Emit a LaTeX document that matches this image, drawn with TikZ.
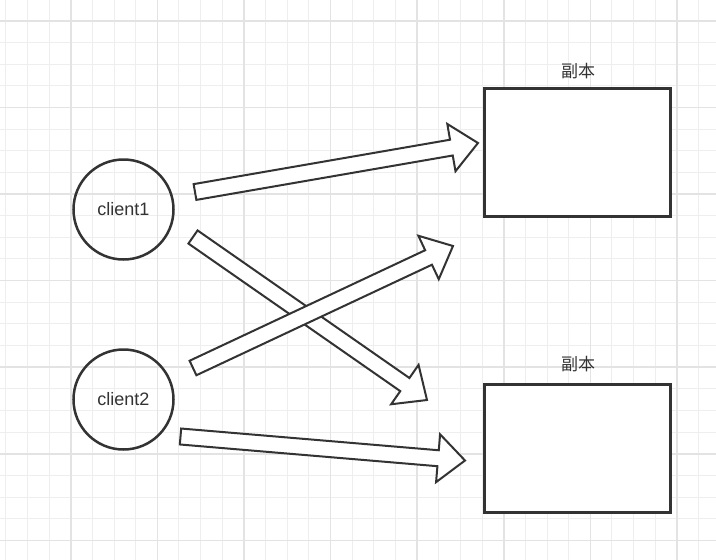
\documentclass[tikz,border=0pt]{standalone}
\usepackage{fontspec}
\setmainfont{Liberation Sans}
\newfontfamily\cjk{Noto Sans CJK SC}
\usetikzlibrary{calc}

\definecolor{inkgray}{HTML}{333333}
\definecolor{gridminor}{HTML}{EEEEEE}
\definecolor{gridmajor}{HTML}{E3E3E3}

% hollow fat arrow from #1 to #2
\newcommand{\fatarrow}[2]{%
  \coordinate (hb) at ($(#2)!27pt!(#1)$);
  \draw[arrowbody] ($(#1)!8pt!90:(#2)$) -- ($(hb)!8pt!90:(#2)$) -- ($(hb)!24pt!90:(#2)$) -- (#2)
    -- ($(hb)!24pt!-90:(#2)$) -- ($(hb)!8pt!-90:(#2)$) -- ($(#1)!8pt!-90:(#2)$) -- cycle;}

\begin{document}
\begin{tikzpicture}[x=1pt,y=-1pt,
  client/.style={draw=inkgray,line width=2.5pt,circle,minimum size=100pt,inner sep=0pt,text=inkgray,font=\fontsize{18}{20}\selectfont},
  replica/.style={draw=inkgray,line width=2.5pt,fill=white,minimum width=186pt,minimum height=128pt,inner sep=0pt},
  rlabel/.style={text=inkgray,font=\cjk\fontsize{17}{19}\selectfont},
  arrowbody/.style={draw=inkgray,line width=2pt,fill=white,line join=miter},
  minor/.style={draw=gridminor,line width=1pt},
  major/.style={draw=gridmajor,line width=1.6pt}]
\useasboundingbox (0,0) rectangle (716,560);
\fill[white] (0,0) rectangle (716,560);
% grid
\foreach \i in {0,...,32} \draw[minor] ({5.75+21.65*\i},0) -- ({5.75+21.65*\i},560);
\foreach \j in {0,...,26} \draw[minor] (0,{-0.85+21.65*\j}) -- (716,{-0.85+21.65*\j});
\foreach \i in {3,7,...,31} \draw[major] ({5.75+21.65*\i},0) -- ({5.75+21.65*\i},560);
\foreach \j in {1,5,...,25} \draw[major] (0,{-0.85+21.65*\j}) -- (716,{-0.85+21.65*\j});

\node[client] (client1) at (123.5,209.5) {client1};
\node[client] (client2) at (123.5,399.5) {client2};
\node[replica] (rep1) at (577.7,152.7) {};
\node[replica] (rep2) at (577.7,448.5) {};
\node[rlabel] (lab1) at (578,71) {副本};
\node[rlabel] (lab2) at (578,364) {副本};

\coordinate (t1) at (195,192);
\coordinate (h1) at (478,143);
\coordinate (t2) at (193,237);
\coordinate (h2) at (427,400);
\coordinate (t3) at (193,368);
\coordinate (h3) at (453,246);
\coordinate (t4) at (180.5,436.5);
\coordinate (h4) at (465,460.5);
\fatarrow{t1}{h1}
\fatarrow{t4}{h4}
\fatarrow{t2}{h2}
\fatarrow{t3}{h3}
\end{tikzpicture}
\end{document}
